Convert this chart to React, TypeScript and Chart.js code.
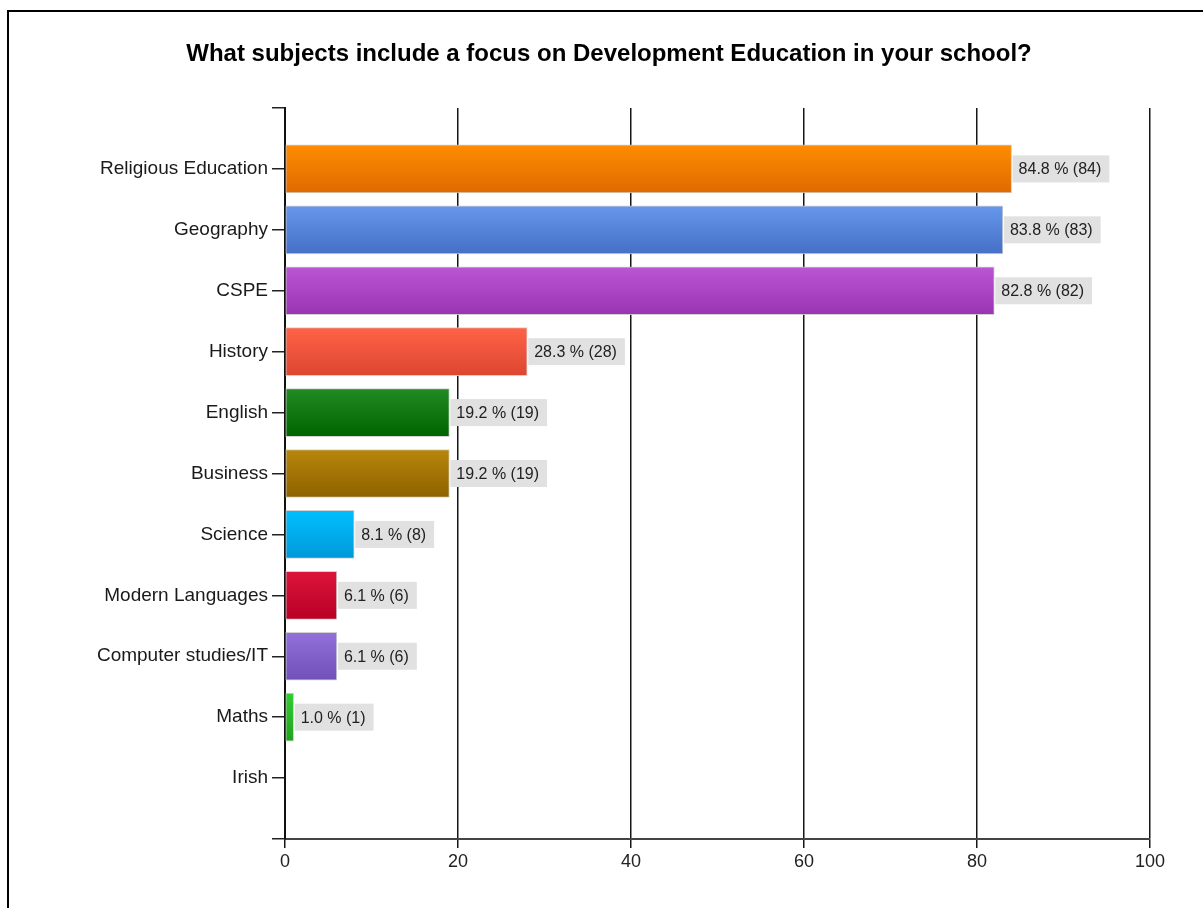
import React, { useEffect, useRef } from "react";
import { Chart, registerables } from "chart.js";

Chart.register(...registerables);

const TITLE = "What subjects include a focus on Development Education in your school?";
const subjects = [
  "Religious Education",
  "Geography",
  "CSPE",
  "History",
  "English",
  "Business",
  "Science",
  "Modern Languages",
  "Computer studies/IT",
  "Maths",
  "Irish",
];
const counts = [84, 83, 82, 28, 19, 19, 8, 6, 6, 1, 0];
const percents = [84.8, 83.8, 82.8, 28.3, 19.2, 19.2, 8.1, 6.1, 6.1, 1.0, 0];
const topColors = [
  "#FF8C00", "#6797EC", "#BA55D3", "#FF6347", "#228B22",
  "#B8860B", "#00BFFF", "#DC143C", "#9370DB", "#32CD32", "#999999",
];
const bottomColors = [
  "#DF6A00", "#4470C6", "#9A34B2", "#DD4630", "#006400",
  "#8D6200", "#0099D9", "#B90024", "#7150B9", "#1FA21F", "#777777",
];
const xTicks = [0, 20, 40, 60, 80, 100];

const FONT = "'Liberation Sans', Arial, sans-serif";

export default function App() {
  const ref = useRef<HTMLCanvasElement | null>(null);

  useEffect(() => {
    if (!ref.current) return;
    const labels = ["", ...subjects, ""];
    const data = [null, ...counts, null];

    const valueLabels = {
      id: "valueLabels",
      afterDatasetsDraw(chart: any) {
        const ctx = chart.ctx;
        const meta = chart.getDatasetMeta(0);
        ctx.save();
        ctx.font = `16px ${FONT}`;
        meta.data.forEach((el: any, i: number) => {
          const k = i - 1;
          if (k < 0 || k >= counts.length) return;
          if (!counts[k]) return;
          const text = `${percents[k].toFixed(1)} % (${counts[k]})`;
          const w = ctx.measureText(text).width + 14;
          const x0 = el.x + 1;
          const h = 27;
          ctx.fillStyle = "#E1E1E1";
          ctx.fillRect(x0, el.y - h / 2, w, h);
          ctx.fillStyle = "#222222";
          ctx.textBaseline = "middle";
          ctx.textAlign = "left";
          ctx.fillText(text, x0 + 6, el.y + 1);
        });
        ctx.restore();
      },
    };

    const grad = (c: any) => {
      const k = c.dataIndex - 1;
      const top = topColors[k] || "#999";
      const bot = bottomColors[k] || "#777";
      const chart = c.chart;
      const ys = chart.scales && chart.scales.y;
      if (!ys || !chart.chartArea) return top;
      const cy = ys.getPixelForValue(c.dataIndex);
      if (!isFinite(cy)) return top;
      const g = chart.ctx.createLinearGradient(0, cy - 24, 0, cy + 24);
      g.addColorStop(0, top);
      g.addColorStop(1, bot);
      return g;
    };

    const chart = new Chart(ref.current, {
      type: "bar",
      data: {
        labels,
        datasets: [
          {
            data: data as any,
            backgroundColor: grad as any,
            borderColor: "rgba(205,205,205,0.9)",
            borderWidth: 1,
            borderSkipped: false,
            barThickness: 48,
          },
        ],
      },
      plugins: [valueLabels],
      options: {
        indexAxis: "y",
        responsive: false,
        animation: false,
        devicePixelRatio: 1,
        layout: { padding: { top: 0, left: 68, right: 53, bottom: 0 } },
        plugins: {
          legend: { display: false },
          tooltip: { enabled: false },
          title: {
            display: true,
            text: TITLE,
            color: "#000000",
            font: { family: FONT, size: 24, weight: "bold", lineHeight: 1.2 },
            padding: { top: 40.2, bottom: 39 },
          },
        },
        scales: {
          x: {
            type: "linear",
            min: 0,
            max: 100,
            afterBuildTicks: (s: any) => {
              s.ticks = xTicks.map((v) => ({ value: v }));
            },
            afterFit: (s: any) => {
              s.height = 69;
            },
            ticks: {
              color: "#222222",
              font: { family: FONT, size: 18 },
              padding: 3,
            },
            grid: {
              color: "#161616",
              lineWidth: 1.5,
              tickLength: 9,
              drawTicks: true,
            },
            border: { display: true, color: "#444444", width: 2 },
          },
          y: {
            type: "category",
            offset: false,
            afterFit: (s: any) => {
              s.width = 217;
            },
            ticks: {
              color: "#1a1a1a",
              font: { family: FONT, size: 19 },
              padding: 4,
              autoSkip: false,
            },
            grid: {
              display: true,
              offset: false,
              drawOnChartArea: false,
              drawTicks: true,
              tickLength: 13,
              color: "#222222",
              lineWidth: 1.5,
            },
            border: { display: true, color: "#111111", width: 2 },
          },
        },
      },
    });
    return () => chart.destroy();
  }, []);

  return (
    <div style={{ position: "absolute", left: 0, top: 0, width: 1203, height: 908, background: "#fff" }}>
      <div
        style={{
          position: "absolute",
          left: 7,
          top: 10,
          width: 1196,
          height: 898,
          borderTop: "2px solid #000",
          borderLeft: "2px solid #000",
          boxSizing: "border-box",
        }}
      />
      <canvas
        ref={ref}
        width={1203}
        height={908}
        style={{ position: "absolute", left: 0, top: 0, display: "block" }}
      />
    </div>
  );
}
